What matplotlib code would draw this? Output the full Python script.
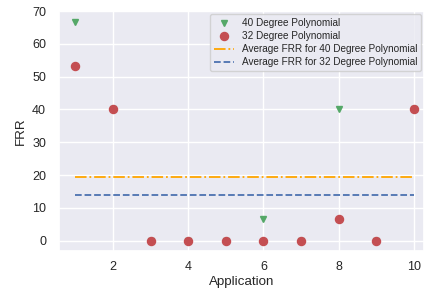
import matplotlib
matplotlib.use("Agg")
import matplotlib.pyplot as plt
import seaborn as sns

sns.set_theme(style="darkgrid", color_codes=True)
plt.rcParams['font.family'] = ['Liberation Sans', 'DejaVu Sans']

apps = [1, 2, 3, 4, 5, 6, 7, 8, 9, 10]
frr_40 = [66.67, 40, 0, 0, 0, 6.67, 0, 40, 0, 40]
frr_32 = [53.33, 40, 0, 0, 0, 0, 0, 6.67, 0, 40]

avg_40 = sum(frr_40) / len(frr_40)
avg_32 = sum(frr_32) / len(frr_32)

fig = plt.figure(figsize=(4.24, 2.91), dpi=100)
ax = fig.add_axes([58.5 / 424, 40 / 291, (424 - 58.5) / 424, 240 / 291])

ax.plot(apps, frr_40, 'gv', markersize=5, label="40 Degree Polynomial")
ax.plot(apps, frr_32, 'ro', markersize=5.8, label="32 Degree Polynomial")
ax.plot(apps, [avg_40] * len(apps), color='orange', linestyle='-.',
        linewidth=1.3, label="Average FRR for 40 Degree Polynomial")
ax.plot(apps, [avg_32] * len(apps), 'b--', linewidth=1.3,
        label="Average FRR for 32 Degree Polynomial")

ax.set_xlim(0.55, 10.27)
ax.set_ylim(-3.1, 70)
ax.set_xticks([2, 4, 6, 8, 10])
ax.set_yticks([0, 10, 20, 30, 40, 50, 60, 70])
ax.tick_params(axis='x', labelsize=9, pad=1.5)
ax.tick_params(axis='y', labelsize=9, pad=3)
ax.set_xlabel("Application", fontsize=9.6, labelpad=2)
ax.set_ylabel("FRR", fontsize=9.6, labelpad=4)

ax.legend(loc="upper right", fontsize=7.2, borderaxespad=0.3,
          handlelength=2, handletextpad=0.8, labelspacing=0.3)

fig.savefig("out.png", dpi=100)
